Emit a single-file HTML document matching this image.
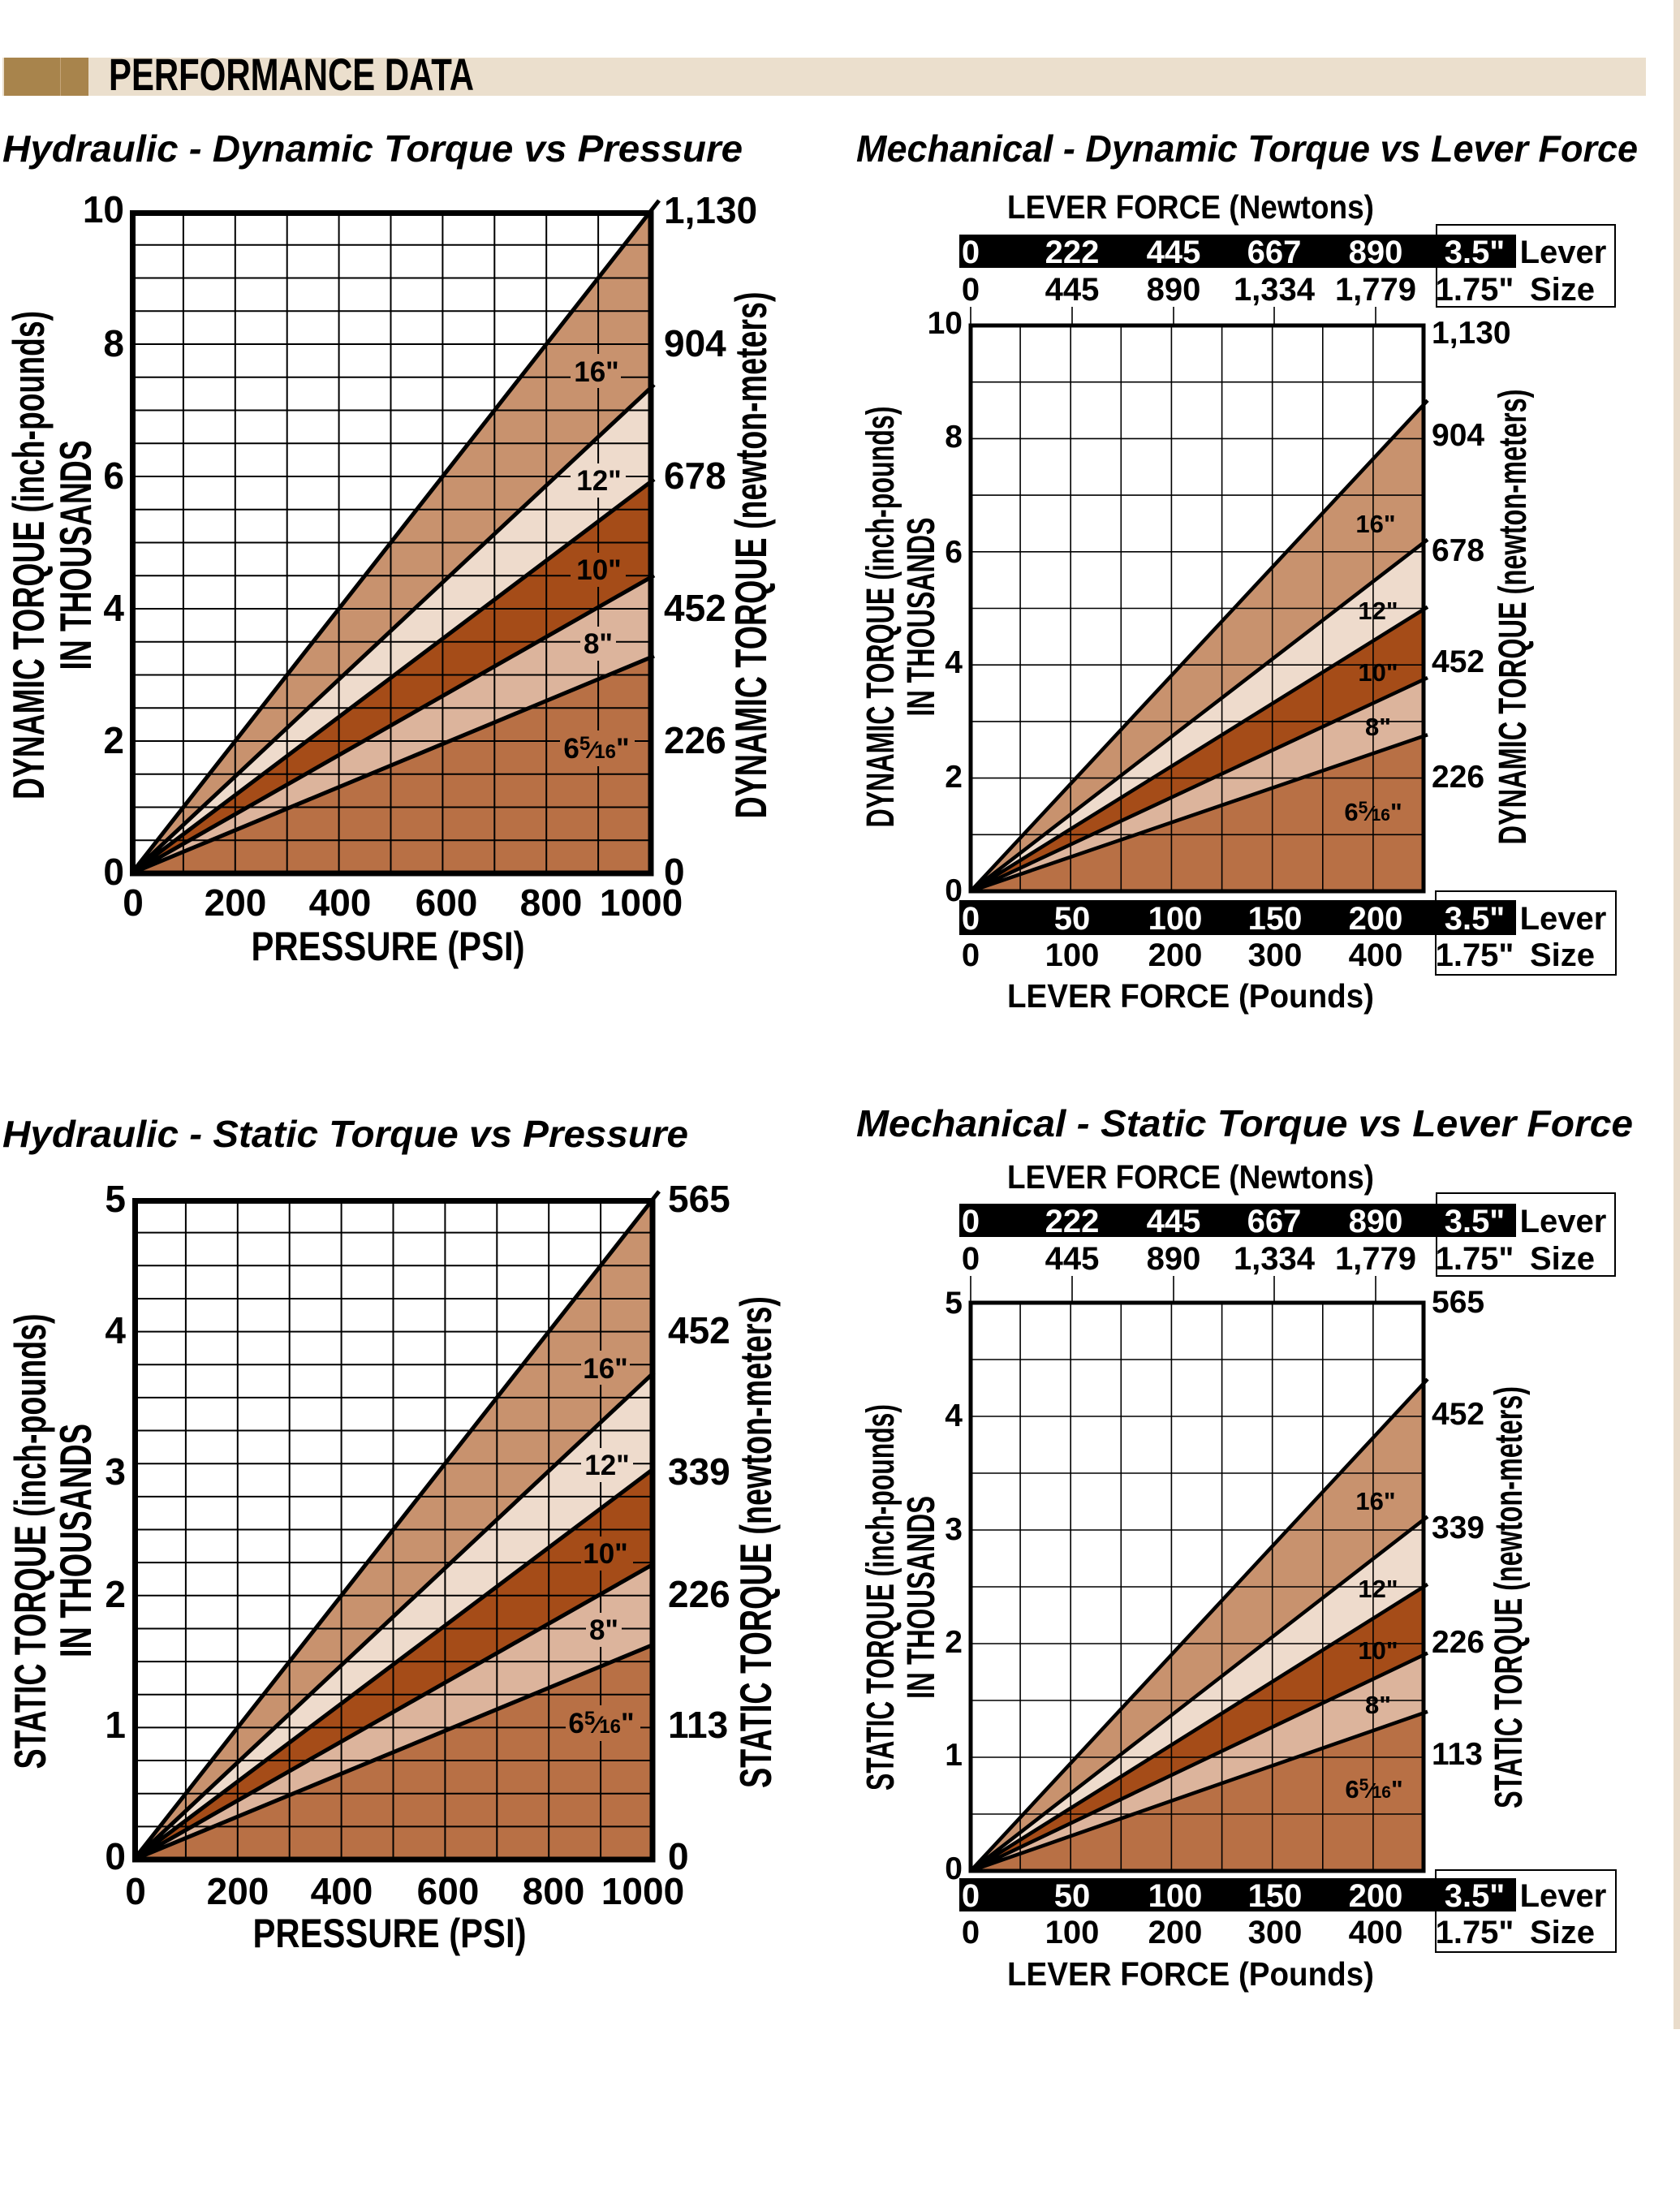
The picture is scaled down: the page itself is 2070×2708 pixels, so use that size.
<!DOCTYPE html>
<html><head><meta charset="utf-8"><style>
html,body{margin:0;padding:0;background:#fff}
svg{display:block}
text{font-family:"Liberation Sans",Arial,sans-serif;font-weight:bold;fill:#000}
.t{font-size:46px}
.r{text-anchor:end}
.m{text-anchor:middle}
.lb{font-size:35px;text-anchor:middle}
.lb2{font-size:31px;text-anchor:middle}
.w{fill:#fff}
.s{font-size:40px}
</style></head><body>
<svg width="2070" height="2708" viewBox="0 0 2070 2708" xmlns="http://www.w3.org/2000/svg">
<rect x="2062" y="0" width="8" height="2500" fill="#e9dccb"/>
<!-- header -->
<rect x="3" y="71" width="2025" height="47" fill="#ebdfcd"/>
<rect x="5" y="71" width="104" height="47" fill="#a8844c"/>
<rect x="74" y="71" width="1" height="47" fill="#c4a478"/>
<text x="134" y="111" font-size="56" textLength="450" lengthAdjust="spacingAndGlyphs">PERFORMANCE DATA</text>

<!-- titles -->
<text x="3" y="199" font-size="46" font-style="italic" textLength="912" lengthAdjust="spacingAndGlyphs">Hydraulic - Dynamic Torque vs Pressure</text>
<text x="1055" y="199" font-size="46" font-style="italic" textLength="963" lengthAdjust="spacingAndGlyphs">Mechanical - Dynamic Torque vs Lever Force</text>
<text x="3" y="1413" font-size="46" font-style="italic" textLength="845" lengthAdjust="spacingAndGlyphs">Hydraulic - Static Torque vs Pressure</text>
<text x="1055" y="1400" font-size="46" font-style="italic" textLength="957" lengthAdjust="spacingAndGlyphs">Mechanical - Static Torque vs Lever Force</text>

<!-- ============ CHART A ============ -->
<polygon points="162,1076 802,810.3 802,1076" fill="#b87045"/>
<polygon points="162,1076 802,711.7 802,810.3" fill="#dcb49c"/>
<polygon points="162,1076 802,594.3 802,711.7" fill="#a54c18"/>
<polygon points="162,1076 802,478.6 802,594.3" fill="#eedbcc"/>
<polygon points="162,1076 802,261 802,478.6" fill="#c8926e"/>
<path d="M225.9 261V1076M289.8 261V1076M353.7 261V1076M417.6 261V1076M481.5 261V1076M545.4 261V1076M609.3 261V1076M673.2 261V1076M737.1 261V1076M162 301.75H802M162 342.5H802M162 383.25H802M162 424H802M162 464.75H802M162 505.5H802M162 546.25H802M162 587H802M162 627.75H802M162 668.5H802M162 709.25H802M162 750H802M162 790.75H802M162 831.5H802M162 872.25H802M162 913H802M162 953.75H802M162 994.5H802M162 1035.25H802" stroke="#000" stroke-width="2" fill="none"/>
<rect x="703" y="436" width="62" height="42" fill="#c8926e"/>
<rect x="703" y="571" width="68" height="42" fill="#eedbcc"/>
<rect x="703" y="681" width="68" height="42" fill="#a54c18"/>
<rect x="715" y="772" width="44" height="42" fill="#dcb49c"/>
<rect x="690" y="900" width="92" height="44" fill="#b87045"/>
<path d="M162 1076L812 247M162 1076L806 473.9M162 1076L806 590.5M162 1076L806 708.9M162 1076L806 808.2" stroke="#000" stroke-width="5" fill="none"/>
<rect x="163.5" y="262.5" width="638.5" height="813.5" fill="none" stroke="#000" stroke-width="7"/>
<text class="lb" x="735" y="470">16"</text>
<text class="lb" x="738" y="604">12"</text>
<text class="lb" x="738" y="714">10"</text>
<text class="lb" x="737" y="805">8"</text>
<text class="lb" x="735" y="934">6<tspan font-size="24" dy="-10">5</tspan><tspan font-size="30" dy="10">⁄</tspan><tspan font-size="24">16</tspan>"</text>
<g class="t">
<text class="r" x="153" y="274">10</text><text class="r" x="153" y="439">8</text><text class="r" x="153" y="602">6</text><text class="r" x="153" y="765">4</text><text class="r" x="153" y="928">2</text><text class="r" x="153" y="1090">0</text>
<text x="818" y="275">1,130</text><text x="818" y="439">904</text><text x="818" y="602">678</text><text x="818" y="765">452</text><text x="818" y="928">226</text><text x="818" y="1090">0</text>
<text class="m" x="164" y="1128">0</text><text class="m" x="290" y="1128">200</text><text class="m" x="419" y="1128">400</text><text class="m" x="550" y="1128">600</text><text class="m" x="679" y="1128">800</text><text class="m" x="790" y="1128">1000</text>
</g>
<text class="m" x="478" y="1183" font-size="50" textLength="337" lengthAdjust="spacingAndGlyphs">PRESSURE (PSI)</text>
<text class="m" transform="translate(54,684) rotate(-90)" font-size="55" textLength="602" lengthAdjust="spacingAndGlyphs">DYNAMIC TORQUE (inch-pounds)</text>
<text class="m" transform="translate(112,684) rotate(-90)" font-size="55" textLength="283" lengthAdjust="spacingAndGlyphs">IN THOUSANDS</text>
<text class="m" transform="translate(944,684) rotate(-90)" font-size="55" textLength="649" lengthAdjust="spacingAndGlyphs">DYNAMIC TORQUE (newton-meters)</text>

<!-- ============ CHART B ============ -->
<polygon points="1196,1098 1754,907 1754,1098" fill="#b87045"/>
<polygon points="1196,1098 1754,837.3 1754,907" fill="#dcb49c"/>
<polygon points="1196,1098 1754,750.9 1754,837.3" fill="#a54c18"/>
<polygon points="1196,1098 1754,668.6 1754,750.9" fill="#eedbcc"/>
<polygon points="1196,1098 1754,498.6 1754,668.6" fill="#c8926e"/>
<path d="M1257.1 401V1098M1319.2 401V1098M1381.3 401V1098M1443.4 401V1098M1505.6 401V1098M1567.7 401V1098M1629.8 401V1098M1691.9 401V1098M1196 470.7H1754M1196 540.4H1754M1196 610.1H1754M1196 679.8H1754M1196 749.5H1754M1196 819.2H1754M1196 888.9H1754M1196 958.6H1754M1196 1028.3H1754" stroke="#000" stroke-width="1.6" fill="none"/>
<path d="M1196 1098L1759 493.3M1196 1098L1759 664.8M1196 1098L1759 747.8M1196 1098L1759 835M1196 1098L1759 905.3" stroke="#000" stroke-width="4.5" fill="none"/>
<rect x="1196" y="401" width="558" height="697" fill="none" stroke="#000" stroke-width="5"/>
<path d="M1196 378V401M1321 378V401M1446 378V401M1570 378V401M1695 378V401" stroke="#000" stroke-width="1.6"/>
<rect x="1182" y="289" width="686" height="41" fill="#000"/>
<rect x="1770" y="277" width="220" height="101" fill="none" stroke="#000" stroke-width="2"/>
<g class="s">
<text class="m w" x="1196" y="324">0</text><text class="m w" x="1321" y="324">222</text><text class="m w" x="1446" y="324">445</text><text class="m w" x="1570" y="324">667</text><text class="m w" x="1695" y="324">890</text><text class="m w" x="1817" y="324">3.5"</text>
<text class="m" x="1196" y="370">0</text><text class="m" x="1321" y="370">445</text><text class="m" x="1446" y="370">890</text><text class="m" x="1570" y="370">1,334</text><text class="m" x="1695" y="370">1,779</text><text class="m" x="1817" y="370">1.75"</text>
<text class="m" x="1926" y="324">Lever</text><text class="m" x="1925" y="370">Size</text>
</g>
<text class="m" x="1467" y="269" font-size="41" textLength="452" lengthAdjust="spacingAndGlyphs">LEVER FORCE (Newtons)</text>
<rect x="1182" y="1109" width="686" height="43" fill="#000"/>
<rect x="1769" y="1098" width="222" height="103" fill="none" stroke="#000" stroke-width="2"/>
<g class="s">
<text class="m w" x="1196" y="1145">0</text><text class="m w" x="1321" y="1145">50</text><text class="m w" x="1448" y="1145">100</text><text class="m w" x="1571" y="1145">150</text><text class="m w" x="1695" y="1145">200</text><text class="m w" x="1817" y="1145">3.5"</text>
<text class="m" x="1196" y="1190">0</text><text class="m" x="1321" y="1190">100</text><text class="m" x="1448" y="1190">200</text><text class="m" x="1571" y="1190">300</text><text class="m" x="1695" y="1190">400</text><text class="m" x="1817" y="1190">1.75"</text>
<text class="m" x="1926" y="1145">Lever</text><text class="m" x="1925" y="1190">Size</text>
</g>
<text class="m" x="1467" y="1241" font-size="41" textLength="452" lengthAdjust="spacingAndGlyphs">LEVER FORCE (Pounds)</text>
<g font-size="39">
<text class="r" x="1186" y="411" font-weight="normal">10</text><text class="r" x="1186" y="551">8</text><text class="r" x="1186" y="693">6</text><text class="r" x="1186" y="829">4</text><text class="r" x="1186" y="970">2</text><text class="r" x="1186" y="1110">0</text>
</g>
<g font-size="39">
<text x="1764" y="423">1,130</text><text x="1764" y="549">904</text><text x="1764" y="691">678</text><text x="1764" y="828">452</text><text x="1764" y="970">226</text>
</g>
<text class="lb2" x="1695" y="656">16"</text>
<text class="lb2" x="1698" y="763">12"</text>
<text class="lb2" x="1698" y="839">10"</text>
<text class="lb2" x="1698" y="906">8"</text>
<text class="lb2" x="1692" y="1011">6<tspan font-size="21" dy="-9">5</tspan><tspan font-size="26" dy="9">⁄</tspan><tspan font-size="21">16</tspan>"</text>
<text class="m" transform="translate(1101,760) rotate(-90)" font-size="48" textLength="519" lengthAdjust="spacingAndGlyphs">DYNAMIC TORQUE (inch-pounds)</text>
<text class="m" transform="translate(1151,760) rotate(-90)" font-size="48" textLength="245" lengthAdjust="spacingAndGlyphs">IN THOUSANDS</text>
<text class="m" transform="translate(1880,760) rotate(-90)" font-size="48" textLength="561" lengthAdjust="spacingAndGlyphs">DYNAMIC TORQUE (newton-meters)</text>

<!-- ============ CHART C ============ -->
<polygon points="165,2291 804,2026.6 804,2291" fill="#b87045"/>
<polygon points="165,2291 804,1927.6 804,2026.6" fill="#dcb49c"/>
<polygon points="165,2291 804,1810.5 804,1927.6" fill="#a54c18"/>
<polygon points="165,2291 804,1692.6 804,1810.5" fill="#eedbcc"/>
<polygon points="165,2291 804,1478 804,1692.6" fill="#c8926e"/>
<path d="M228.9 1478V2291M292.8 1478V2291M356.7 1478V2291M420.6 1478V2291M484.5 1478V2291M548.4 1478V2291M612.3 1478V2291M676.2 1478V2291M740.1 1478V2291M165 1518.65H804M165 1559.3H804M165 1599.95H804M165 1640.6H804M165 1681.25H804M165 1721.9H804M165 1762.55H804M165 1803.2H804M165 1843.85H804M165 1884.5H804M165 1925.15H804M165 1965.8H804M165 2006.45H804M165 2047.1H804M165 2087.75H804M165 2128.4H804M165 2169.05H804M165 2209.7H804M165 2250.35H804" stroke="#000" stroke-width="2" fill="none"/>
<rect x="716" y="1664" width="60" height="42" fill="#c8926e"/>
<rect x="716" y="1784" width="64" height="42" fill="#eedbcc"/>
<rect x="716" y="1893" width="64" height="42" fill="#a54c18"/>
<rect x="722" y="1987" width="44" height="42" fill="#dcb49c"/>
<rect x="697" y="2101" width="92" height="44" fill="#b87045"/>
<path d="M165 2291L812 1467.8M165 2291L806 1690.7M165 2291L806 1809M165 2291L806 1926.5M165 2291L806 2025.8" stroke="#000" stroke-width="5" fill="none"/>
<rect x="166.5" y="1479.5" width="637.5" height="811.5" fill="none" stroke="#000" stroke-width="7"/>
<text class="lb" x="746" y="1698">16"</text>
<text class="lb" x="748" y="1817">12"</text>
<text class="lb" x="746" y="1926">10"</text>
<text class="lb" x="744" y="2020">8"</text>
<text class="lb" x="741" y="2135">6<tspan font-size="24" dy="-10">5</tspan><tspan font-size="30" dy="10">⁄</tspan><tspan font-size="24">16</tspan>"</text>
<g class="t">
<text class="r" x="155" y="1493">5</text><text class="r" x="155" y="1655">4</text><text class="r" x="155" y="1829">3</text><text class="r" x="155" y="1980">2</text><text class="r" x="155" y="2141">1</text><text class="r" x="155" y="2303">0</text>
<text x="823" y="1493">565</text><text x="823" y="1655">452</text><text x="823" y="1829">339</text><text x="823" y="1980">226</text><text x="823" y="2141">113</text><text x="823" y="2303">0</text>
<text class="m" x="167" y="2346">0</text><text class="m" x="293" y="2346">200</text><text class="m" x="421" y="2346">400</text><text class="m" x="552" y="2346">600</text><text class="m" x="682" y="2346">800</text><text class="m" x="792" y="2346">1000</text>
</g>
<text class="m" x="480" y="2399" font-size="50" textLength="337" lengthAdjust="spacingAndGlyphs">PRESSURE (PSI)</text>
<text class="m" transform="translate(56,1899) rotate(-90)" font-size="55" textLength="561" lengthAdjust="spacingAndGlyphs">STATIC TORQUE (inch-pounds)</text>
<text class="m" transform="translate(112,1898) rotate(-90)" font-size="55" textLength="288" lengthAdjust="spacingAndGlyphs">IN THOUSANDS</text>
<text class="m" transform="translate(950,1900) rotate(-90)" font-size="55" textLength="606" lengthAdjust="spacingAndGlyphs">STATIC TORQUE (newton-meters)</text>

<!-- ============ CHART D ============ -->
<polygon points="1196,2305 1754,2110.4 1754,2305" fill="#b87045"/>
<polygon points="1196,2305 1754,2039 1754,2110.4" fill="#dcb49c"/>
<polygon points="1196,2305 1754,1955 1754,2039" fill="#a54c18"/>
<polygon points="1196,2305 1754,1872.4 1754,1955" fill="#eedbcc"/>
<polygon points="1196,2305 1754,1704.4 1754,1872.4" fill="#c8926e"/>
<path d="M1257.1 1605V2305M1319.2 1605V2305M1381.3 1605V2305M1443.4 1605V2305M1505.6 1605V2305M1567.7 1605V2305M1629.8 1605V2305M1691.9 1605V2305M1196 1675H1754M1196 1745H1754M1196 1815H1754M1196 1885H1754M1196 1955H1754M1196 2025H1754M1196 2095H1754M1196 2165H1754M1196 2235H1754" stroke="#000" stroke-width="1.6" fill="none"/>
<path d="M1196 2305L1759 1699.1M1196 2305L1759 1868.5M1196 2305L1759 1951.9M1196 2305L1759 2036.6M1196 2305L1759 2108.7" stroke="#000" stroke-width="4.5" fill="none"/>
<rect x="1196" y="1605" width="558" height="700" fill="none" stroke="#000" stroke-width="5"/>
<path d="M1196 1572V1605M1321 1572V1605M1446 1572V1605M1570 1572V1605M1695 1572V1605" stroke="#000" stroke-width="1.6"/>
<rect x="1182" y="1483" width="686" height="41" fill="#000"/>
<rect x="1770" y="1470" width="220" height="102" fill="none" stroke="#000" stroke-width="2"/>
<g class="s">
<text class="m w" x="1196" y="1518">0</text><text class="m w" x="1321" y="1518">222</text><text class="m w" x="1446" y="1518">445</text><text class="m w" x="1570" y="1518">667</text><text class="m w" x="1695" y="1518">890</text><text class="m w" x="1817" y="1518">3.5"</text>
<text class="m" x="1196" y="1564">0</text><text class="m" x="1321" y="1564">445</text><text class="m" x="1446" y="1564">890</text><text class="m" x="1570" y="1564">1,334</text><text class="m" x="1695" y="1564">1,779</text><text class="m" x="1817" y="1564">1.75"</text>
<text class="m" x="1926" y="1518">Lever</text><text class="m" x="1925" y="1564">Size</text>
</g>
<text class="m" x="1467" y="1464" font-size="41" textLength="452" lengthAdjust="spacingAndGlyphs">LEVER FORCE (Newtons)</text>
<rect x="1182" y="2314" width="686" height="41" fill="#000"/>
<rect x="1769" y="2304" width="222" height="101" fill="none" stroke="#000" stroke-width="2"/>
<g class="s">
<text class="m w" x="1196" y="2349">0</text><text class="m w" x="1321" y="2349">50</text><text class="m w" x="1448" y="2349">100</text><text class="m w" x="1571" y="2349">150</text><text class="m w" x="1695" y="2349">200</text><text class="m w" x="1817" y="2349">3.5"</text>
<text class="m" x="1196" y="2394">0</text><text class="m" x="1321" y="2394">100</text><text class="m" x="1448" y="2394">200</text><text class="m" x="1571" y="2394">300</text><text class="m" x="1695" y="2394">400</text><text class="m" x="1817" y="2394">1.75"</text>
<text class="m" x="1926" y="2349">Lever</text><text class="m" x="1925" y="2394">Size</text>
</g>
<text class="m" x="1467" y="2446" font-size="41" textLength="452" lengthAdjust="spacingAndGlyphs">LEVER FORCE (Pounds)</text>
<g font-size="39">
<text class="r" x="1186" y="1618">5</text><text class="r" x="1186" y="1757">4</text><text class="r" x="1186" y="1897">3</text><text class="r" x="1186" y="2036">2</text><text class="r" x="1186" y="2175">1</text><text class="r" x="1186" y="2315">0</text>
<text x="1764" y="1617">565</text><text x="1764" y="1755">452</text><text x="1764" y="1895">339</text><text x="1764" y="2036">226</text><text x="1764" y="2174">113</text>
</g>
<text class="lb2" x="1695" y="1860">16"</text>
<text class="lb2" x="1698" y="1968">12"</text>
<text class="lb2" x="1698" y="2044">10"</text>
<text class="lb2" x="1698" y="2111">8"</text>
<text class="lb2" x="1693" y="2215">6<tspan font-size="21" dy="-9">5</tspan><tspan font-size="26" dy="9">⁄</tspan><tspan font-size="21">16</tspan>"</text>
<text class="m" transform="translate(1101,1968) rotate(-90)" font-size="48" textLength="476" lengthAdjust="spacingAndGlyphs">STATIC TORQUE (inch-pounds)</text>
<text class="m" transform="translate(1151,1968) rotate(-90)" font-size="48" textLength="250" lengthAdjust="spacingAndGlyphs">IN THOUSANDS</text>
<text class="m" transform="translate(1875,1968) rotate(-90)" font-size="48" textLength="520" lengthAdjust="spacingAndGlyphs">STATIC TORQUE (newton-meters)</text>
</svg>
</body></html>
